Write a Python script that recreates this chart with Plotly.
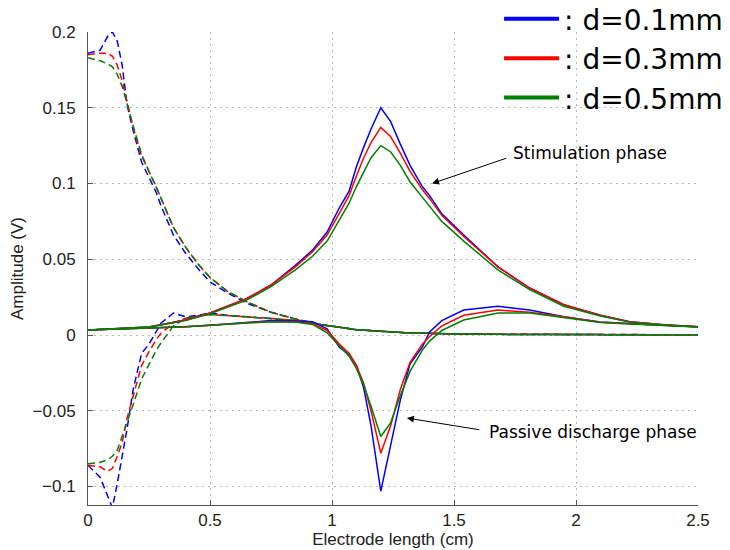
import plotly.graph_objects as go

# electrode position (cm) for the solid curves
solid_x = [0, 0.25, 0.4, 0.5, 0.65, 0.75, 0.85, 0.92, 0.98, 1.03, 1.07, 1.1, 1.13, 1.16, 1.2,
           1.24, 1.28, 1.32, 1.37, 1.4, 1.45, 1.54, 1.68, 1.81, 1.95, 2.1, 2.22, 2.36, 2.5]

# stimulation phase (solid, peak at 1.2 cm)
stim_01 = [0.0033, 0.0053, 0.0099, 0.0145, 0.024, 0.033, 0.046, 0.056, 0.068, 0.084, 0.095, 0.111, 0.124, 0.136, 0.150,
           0.141, 0.126, 0.112, 0.098, 0.092, 0.080, 0.066, 0.045, 0.031, 0.020, 0.013, 0.0088, 0.0068, 0.0055]
stim_03 = [0.0033, 0.0053, 0.0099, 0.0145, 0.024, 0.033, 0.045, 0.055, 0.066, 0.081, 0.092, 0.105, 0.117, 0.127, 0.137,
           0.131, 0.120, 0.108, 0.096, 0.090, 0.079, 0.065, 0.045, 0.031, 0.020, 0.013, 0.0088, 0.0068, 0.0055]
stim_05 = [0.0033, 0.0053, 0.0095, 0.014, 0.023, 0.032, 0.043, 0.052, 0.062, 0.076, 0.087, 0.098, 0.108, 0.117, 0.125,
           0.121, 0.112, 0.101, 0.091, 0.085, 0.075, 0.062, 0.043, 0.030, 0.019, 0.0125, 0.0085, 0.0066, 0.0053]

# passive discharge phase (solid, dip at 1.2 cm)
pass_01 = [0.0033, 0.0045, 0.0055, 0.0065, 0.0085, 0.0095, 0.0092, 0.0088, 0.004, -0.008, -0.013, -0.020, -0.035, -0.060, -0.103,
           -0.074, -0.043, -0.019, -0.008, 0.002, 0.0095, 0.0165, 0.019, 0.0165, 0.012, 0.0086, 0.0075, 0.0065, 0.0055]
pass_03 = [0.0033, 0.0045, 0.0055, 0.0065, 0.0082, 0.009, 0.0088, 0.0075, 0.003, -0.006, -0.012, -0.020, -0.032, -0.050, -0.078,
           -0.060, -0.036, -0.018, -0.006, -0.001, 0.006, 0.013, 0.0165, 0.015, 0.012, 0.0085, 0.0075, 0.0065, 0.0055]
pass_05 = [0.0033, 0.0045, 0.0055, 0.0065, 0.008, 0.0088, 0.0085, 0.007, 0.0015, -0.007, -0.014, -0.022, -0.033, -0.047, -0.067,
           -0.058, -0.040, -0.024, -0.010, -0.004, 0.003, 0.0099, 0.0145, 0.0145, 0.0115, 0.0082, 0.0073, 0.0064, 0.0053]

# electrode position (cm) for the dashed curves
dash_x = [0, 0.05, 0.08, 0.1, 0.12, 0.14, 0.16, 0.185, 0.22, 0.25, 0.28, 0.3, 0.35, 0.4, 0.45, 0.5,
          0.57, 0.65, 0.75, 0.85, 0.95, 1.1, 1.3, 1.5, 1.8, 2.1, 2.5]

# dashed, starting high
high_01 = [0.186, 0.188, 0.197, 0.200, 0.194, 0.178, 0.152, 0.135, 0.114, 0.104, 0.094, 0.085, 0.066, 0.054, 0.044, 0.035,
           0.028, 0.021, 0.015, 0.0105, 0.007, 0.0035, 0.0015, 0.0007, 0.0003, 0.0003, 0.0002]
high_03 = [0.185, 0.186, 0.186, 0.184, 0.178, 0.168, 0.154, 0.137, 0.118, 0.108, 0.098, 0.090, 0.071, 0.058, 0.047, 0.038,
           0.029, 0.022, 0.015, 0.0105, 0.007, 0.0035, 0.0015, 0.0007, 0.0003, 0.0003, 0.0002]
high_05 = [0.183, 0.181, 0.179, 0.177, 0.172, 0.164, 0.153, 0.138, 0.119, 0.108, 0.098, 0.090, 0.071, 0.058, 0.047, 0.038,
           0.029, 0.022, 0.015, 0.0105, 0.007, 0.0035, 0.0015, 0.0007, 0.0003, 0.0003, 0.0002]

# dashed, starting low
low_01 = [-0.086, -0.094, -0.106, -0.114, -0.098, -0.080, -0.062, -0.036, -0.012, -0.006, 0.002, 0.008, 0.0145, 0.012, 0.013, 0.0145,
          0.013, 0.012, 0.011, 0.0095, 0.007, 0.0035, 0.0015, 0.0007, 0.0003, 0.0003, 0.0002]
low_03 = [-0.086, -0.087, -0.090, -0.088, -0.080, -0.071, -0.055, -0.040, -0.020, -0.011, -0.003, 0.0013, 0.008, 0.011, 0.0125, 0.0135,
          0.013, 0.012, 0.011, 0.0095, 0.007, 0.0035, 0.0015, 0.0007, 0.0003, 0.0003, 0.0002]
low_05 = [-0.085, -0.084, -0.0825, -0.080, -0.076, -0.067, -0.058, -0.046, -0.029, -0.019, -0.010, -0.005, 0.006, 0.011, 0.0125, 0.0135,
          0.013, 0.012, 0.011, 0.0095, 0.007, 0.0035, 0.0015, 0.0007, 0.0003, 0.0003, 0.0002]

labels = [": d=0.1mm", ": d=0.3mm", ": d=0.5mm"]
colors = ["#0000ff", "#ff0000", "#008000"]
stim = [stim_01, stim_03, stim_05]
passive = [pass_01, pass_03, pass_05]
high = [high_01, high_03, high_05]
low = [low_01, low_03, low_05]

fig = go.Figure()
for i in range(3):
    c = colors[i]
    fig.add_trace(go.Scatter(x=dash_x, y=high[i], mode="lines", line=dict(color=c, width=1.5, dash="7px,4px"), showlegend=False))
    fig.add_trace(go.Scatter(x=dash_x, y=low[i], mode="lines", line=dict(color=c, width=1.5, dash="7px,4px"), showlegend=False))
for i in range(3):
    c = colors[i]
    fig.add_trace(go.Scatter(x=solid_x, y=stim[i], mode="lines", line=dict(color=c, width=1.5), showlegend=False))
    fig.add_trace(go.Scatter(x=solid_x, y=passive[i], mode="lines", line=dict(color=c, width=1.5), showlegend=False))
# legend entries with thicker lines
for i in range(3):
    fig.add_trace(go.Scatter(x=[None], y=[None], mode="lines", name=labels[i], line=dict(color=colors[i], width=4)))

fig.add_annotation(x=1.41, y=0.100, ax=1.72, ay=0.117, axref="x", ayref="y", text="", showarrow=True,
                   arrowhead=2, arrowsize=1.4, arrowwidth=1, arrowcolor="black")
fig.add_annotation(x=1.735, y=0.12, text="Stimulation phase", showarrow=False, xanchor="left",
                   font=dict(family="DejaVu Sans", size=17, color="black"))
fig.add_annotation(x=1.307, y=-0.0548, ax=1.61, ay=-0.0627, axref="x", ayref="y", text="", showarrow=True,
                   arrowhead=2, arrowsize=1.4, arrowwidth=1, arrowcolor="black")
fig.add_annotation(x=1.635, y=-0.064, text="Passive discharge phase", showarrow=False, xanchor="left",
                   font=dict(family="DejaVu Sans", size=17, color="black"))

axis_style = dict(showgrid=True, gridcolor="#b8b8b8", griddash="2px,4px", gridwidth=1, zeroline=False,
                  showline=True, linecolor="#555555", linewidth=1, ticks="inside", ticklen=5, tickcolor="#555555",
                  tickfont=dict(family="Liberation Sans", size=17, color="#222222"), mirror=False, automargin=False)
# the page body adds 8px around the figure, so the figure is 8px smaller here
fig.update_xaxes(range=[0, 2.5], domain=[0, 610 / 642], tickvals=[0, 0.5, 1, 1.5, 2, 2.5],
                 ticktext=["0", "0.5", "1", "1.5", "2", "2.5"], ticklabelstandoff=0,
                 title=dict(text="Electrode length (cm)", font=dict(family="Liberation Sans", size=17, color="#222222"), standoff=0),
                 **axis_style)
fig.update_yaxes(range=[-0.1122, 0.2], domain=[0, 473 / 497], tickvals=[-0.1, -0.05, 0, 0.05, 0.1, 0.15, 0.2],
                 ticklabelstandoff=8,
                 title=dict(text="Amplitude (V)", font=dict(family="Liberation Sans", size=17, color="#222222"), standoff=4),
                 **axis_style)
fig.update_layout(width=722, height=542, margin=dict(l=80, r=0, t=0, b=45, autoexpand=False),
                  plot_bgcolor="white", paper_bgcolor="white",
                  legend=dict(x=0.997, y=1.028, xanchor="right", yanchor="top", bgcolor="rgba(0,0,0,0)",
                              font=dict(family="DejaVu Sans", size=28, color="black"), itemwidth=55, tracegroupgap=0))
fig.write_html("out.html")
